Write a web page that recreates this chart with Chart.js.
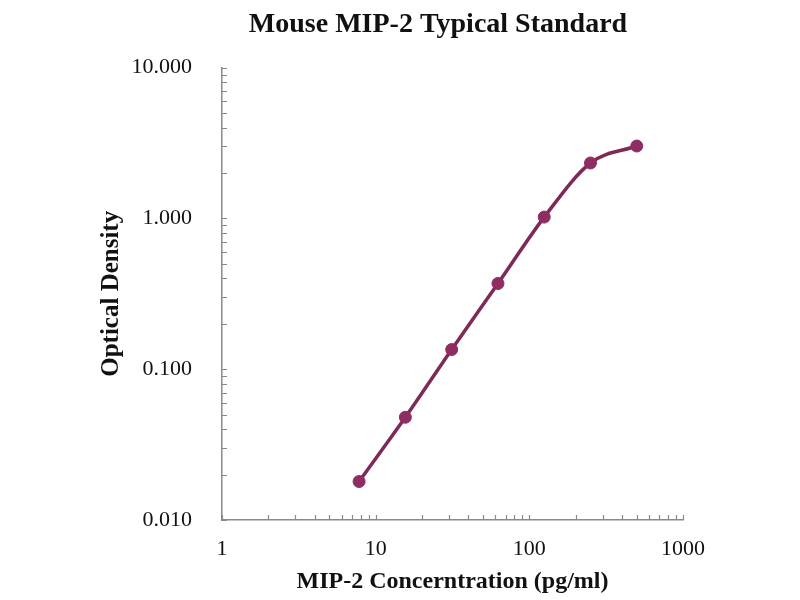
<!DOCTYPE html>
<html>
<head>
<meta charset="utf-8">
<script src="https://cdn.jsdelivr.net/npm/chart.js@4"></script>
<style>
  html, body { margin: 0; padding: 0; background: #fff; }
  #wrap { width: 800px; height: 600px; }
</style>
</head>
<body>
<div id="wrap"><canvas id="myChart"></canvas></div>
<script>
'use strict';

// standard curve
var concentrations = [7.8, 15.6, 31.25, 62.5, 125, 250, 500]
var densities = [0.018, 0.048, 0.135, 0.37, 1.02, 2.33, 3.02]

var xDecades = [1, 10, 100]
var yDecades = [0.01, 0.1, 1]
var steps = [1, 2, 3, 4, 5, 6, 7, 8, 9]

var lineColor = '#7e2a57'
var pointColor = '#8e2d62'
var axisColor = '#8a8a8a'
var serif = "'Liberation Serif', 'Times New Roman', serif"

function tickList(decades, last) {
	var out = []
	decades.forEach((d)=>{
		steps.forEach((s)=>out.push(+(d*s).toPrecision(3)))
	})
	out.push(last)
	return out
}

var xTicks = tickList(xDecades, 1000)
var yTicks = tickList(yDecades, 10)

const isDecade = (v) => Math.abs(Math.log10(v) - Math.round(Math.log10(v))) < 1e-9

// ticks in the picture point into the plot, so draw them by hand
var innerTicks = {
	id: 'innerTicks',
	afterDraw(chart) {
		var ctx = chart.ctx
		var xs = chart.scales.x, ys = chart.scales.y
		ctx.save()
		ctx.strokeStyle = axisColor
		ctx.lineWidth = 1.2
		ctx.beginPath()
		xs.ticks.forEach((t)=>{
			var px = Math.round(xs.getPixelForValue(t.value)) + 0.5
			ctx.moveTo(px, ys.bottom)
			ctx.lineTo(px, ys.bottom - 5)
		})
		ys.ticks.forEach((t)=>{
			var py = Math.round(ys.getPixelForValue(t.value)) + 0.5
			ctx.moveTo(xs.left, py)
			ctx.lineTo(xs.left + 5, py)
		})
		ctx.stroke()
		ctx.restore()
	}
}

var canvas = document.getElementById('myChart')
var chart = new Chart(canvas.getContext('2d'), {
	type: 'line',
	data: {
		datasets: [{
			label: 'Standard',
			data: concentrations.map((c, i)=>({x: c, y: densities[i]})),
			borderColor: lineColor,
			backgroundColor: pointColor,
			borderWidth: 3.5,
			pointRadius: 6,
			pointHoverRadius: 6,
			pointBackgroundColor: pointColor,
			pointBorderColor: pointColor,
			pointBorderWidth: 1,
			cubicInterpolationMode: 'monotone',
			fill: false
		}]
	},
	options: {
		responsive: true,
		maintainAspectRatio: false,
		animation: false,
		layout: {padding: {left: 86, right: 10, top: 0, bottom: 0}},
		plugins: {
			legend: {display: false},
			tooltip: {enabled: false},
			title: {
				display: true,
				text: 'Mouse MIP-2 Typical Standard',
				color: '#111',
				font: {family: serif, size: 28, weight: 'bold'},
				padding: {top: 8, bottom: 26}
			}
		},
		scales: {
			x: {
				type: 'logarithmic',
				min: 1,
				max: 1000,
				afterBuildTicks: (s)=>{ s.ticks = xTicks.map((v)=>({value: v})) },
				afterFit: (s)=>{ s.height = 80 },
				grid: {display: false, drawTicks: false},
				border: {display: true, color: axisColor, width: 1.5},
				ticks: {
					autoSkip: false,
					maxRotation: 0,
					padding: 16,
					color: '#111',
					font: {family: serif, size: 22},
					callback: (v)=> isDecade(v) ? String(v) : ''
				},
				title: {
					display: true,
					text: 'MIP-2 Concerntration (pg/ml)',
					color: '#111',
					font: {family: serif, size: 24, weight: 'bold'},
					padding: {top: 6, bottom: 4}
				}
			},
			y: {
				type: 'logarithmic',
				min: 0.01,
				max: 10,
				afterBuildTicks: (s)=>{ s.ticks = yTicks.map((v)=>({value: v})) },
				afterFit: (s)=>{ s.width = 136 },
				grid: {display: false, drawTicks: false},
				border: {display: true, color: axisColor, width: 1.5},
				ticks: {
					autoSkip: false,
					padding: 30,
					color: '#111',
					font: {family: serif, size: 22},
					callback: (v)=> isDecade(v) ? v.toFixed(3) : ''
				},
				title: {
					display: true,
					text: 'Optical Density',
					color: '#111',
					font: {family: serif, size: 25, weight: 'bold'},
					padding: {top: 11, bottom: 0}
				}
			},
			// empty right-hand box, keeps the plot where the picture has it
			spacer: {
				type: 'linear',
				position: 'right',
				display: true,
				grid: {display: false},
				border: {display: false},
				ticks: {display: false},
				afterFit: (s)=>{ s.width = 107 }
			}
		}
	},
	plugins: [innerTicks]
})
</script>
</body>
</html>
